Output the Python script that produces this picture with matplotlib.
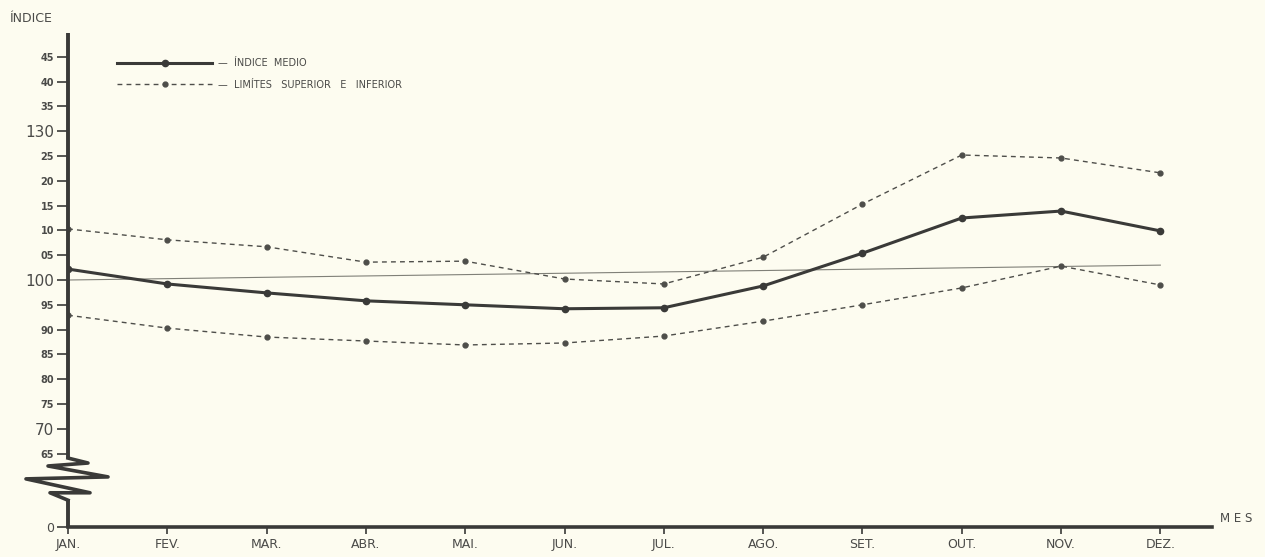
import matplotlib
matplotlib.use('Agg')
import matplotlib.pyplot as plt
from matplotlib.lines import Line2D

# dados (indice mensal)
meses = ['JAN.', 'FEV.', 'MAR.', 'ABR.', 'MAI.', 'JUN.', 'JUL.', 'AGO.', 'SET.', 'OUT.', 'NOV.', 'DEZ.']
indice_medio = [102.2, 99.2, 97.4, 95.8, 95.0, 94.2, 94.4, 98.8, 105.4, 112.5, 113.9, 109.9]
limite_superior = [110.3, 108.1, 106.7, 103.6, 103.8, 100.2, 99.2, 104.6, 115.3, 125.2, 124.6, 121.6]
limite_inferior = [92.9, 90.3, 88.5, 87.7, 86.9, 87.3, 88.7, 91.7, 95.0, 98.4, 102.8, 99.0]
linha_base = [100.0, 103.0]  # linha de referencia, JAN -> DEZ (desenhada inclinada no original)

# escala do eixo y (eixo interrompido entre 0 e 65)
pos_zero = 50.2
y_ticks = [pos_zero] + list(range(65, 150, 5))
y_labels = ['0', '65', '70', '75', '80', '85', '90', '95', '100', '05', '10', '15', '20',
            '25', '130', '35', '40', '45']

cor = '#3a3a38'
cor_tr = '#4e4e4a'
cor_txt = '#4a4a48'
fundo = '#fdfcf0'

fig = plt.figure(figsize=(12.65, 5.57), dpi=100, facecolor=fundo)
ax = fig.add_axes([68 / 1265, 30 / 557, 1144 / 1265, 494 / 557])
ax.set_facecolor(fundo)
ax.set_xlim(0, 11.52)
ax.set_ylim(pos_zero, 149.8)

x = list(range(len(meses)))
ax.plot([0, 11], linha_base, color='#808078', lw=0.8)
ax.plot(x, limite_superior, color=cor_tr, lw=1.0, ls=(0, (3.5, 3)), marker='o', ms=3.5)
ax.plot(x, limite_inferior, color=cor_tr, lw=1.0, ls=(0, (3.5, 3)), marker='o', ms=3.5)
ax.plot(x, indice_medio, color=cor, lw=2.2, marker='o', ms=4.5, zorder=5)

# eixos
for s in ['top', 'right', 'left']:
    ax.spines[s].set_visible(False)
ax.spines['bottom'].set_linewidth(2.6)
ax.spines['bottom'].set_color(cor)

# eixo y com interrupcao em zigue-zague
px = 1 / 99.3  # meses por pixel
ax.plot([0, 0], [64.1, 149.8], color=cor, lw=2.8, clip_on=False, solid_capstyle='butt')
zx = [0, 20, -20, 40, -42, 22, -18, 0]
zy = [64.1, 63.1, 62.5, 60.3, 59.9, 57.1, 57.1, 55.6]
ax.plot([v * px for v in zx], zy, color=cor, lw=2.6, clip_on=False)
ax.plot([0, 0], [55.6, pos_zero], color=cor, lw=2.8, clip_on=False, solid_capstyle='butt')

ax.set_yticks(y_ticks)
ax.set_yticklabels(y_labels)
ax.tick_params(axis='y', direction='out', length=8, width=1.2, color=cor,
               labelcolor=cor_txt, labelsize=7, pad=2)
for lab in ax.get_yticklabels():
    if lab.get_text() in ('100', '130', '70'):
        lab.set_fontsize(11)
    elif lab.get_text() == '0':
        lab.set_fontsize(9)
    else:
        lab.set_fontweight('bold')

ax.set_xticks(x)
ax.set_xticklabels(meses)
ax.tick_params(axis='x', direction='out', length=5, width=1.2, color=cor,
               labelcolor=cor_txt, labelsize=9, pad=3)

fig.text(10 / 1265, 1 - 18 / 557, 'ÍNDICE', fontsize=9, color=cor_txt, va='center')
fig.text(1220 / 1265, 1 - 518 / 557, 'M E S', fontsize=8.5, color=cor_txt, va='center')

# legenda
handles = [Line2D([], [], color=cor, lw=2.2, marker='o', ms=4.5),
           Line2D([], [], color=cor_tr, lw=1.0, ls=(0, (3.5, 3)), marker='o', ms=3.5)]
labels = ['—  ÍNDICE  MEDIO', '—  LIMÍTES   SUPERIOR   E   INFERIOR']
leg = ax.legend(handles, labels, loc='upper left', bbox_to_anchor=(117 / 1265, 1 - 58 / 557),
                bbox_transform=fig.transFigure, frameon=False, fontsize=7, handlelength=9.8,
                handletextpad=0.6, labelspacing=1.2, borderpad=0, borderaxespad=0)
for t in leg.get_texts():
    t.set_color(cor_txt)

fig.savefig('out.png', dpi=100, facecolor=fundo)
